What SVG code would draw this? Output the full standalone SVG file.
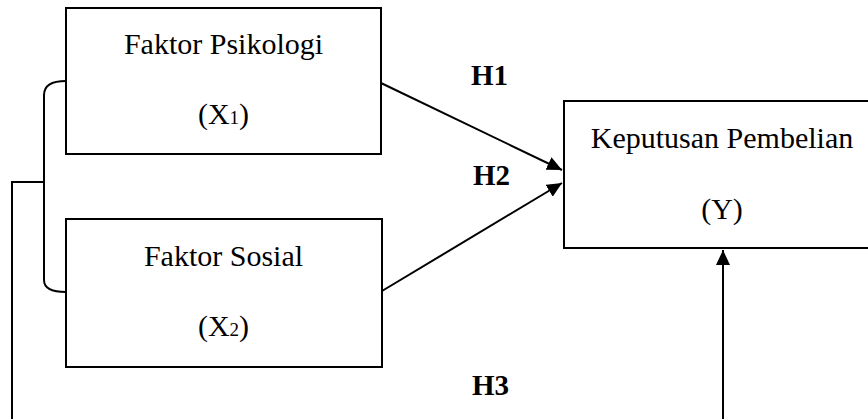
<svg xmlns="http://www.w3.org/2000/svg" width="868" height="419" viewBox="0 0 868 419">
<style>
.box{fill:#fff;stroke:#000;stroke-width:2}
.t{font-family:'Liberation Serif','Times New Roman','DejaVu Serif',serif;font-size:30px;fill:#000;text-anchor:middle}
.h{font-family:'Liberation Serif','Times New Roman','DejaVu Serif',serif;font-size:29px;font-weight:bold;fill:#000}
.ln{fill:none;stroke:#000;stroke-width:2}
</style>
<defs>
<marker id="arr" markerWidth="16" markerHeight="14" refX="15" refY="7" orient="auto" markerUnits="userSpaceOnUse">
<path d="M0,0 L15,7 L0,14 Z" fill="#000"/>
</marker>
</defs>
<rect width="868" height="419" fill="#fff"/>
<g id="x1">
<rect class="box" x="66" y="8" width="315" height="146"/>
<text class="t" x="223.5" y="54">Faktor Psikologi</text>
<text class="t" x="223.5" y="124">(X<tspan font-size="19">1</tspan>)</text>
</g>
<g id="x2">
<rect class="box" x="66" y="219" width="316" height="148"/>
<text class="t" x="223.5" y="266">Faktor Sosial</text>
<text class="t" x="223.5" y="336">(X<tspan font-size="19">2</tspan>)</text>
</g>
<g id="y">
<rect class="box" x="564" y="101" width="320" height="147"/>
<text class="t" x="722" y="148">Keputusan Pembelian</text>
<text class="t" x="722" y="219">(Y)</text>
</g>
<g id="labels">
<text class="h" x="471" y="85">H1</text>
<text class="h" x="473" y="185">H2</text>
<text class="h" x="472" y="395">H3</text>
</g>
<g id="connectors">
<path class="ln" d="M66,81 C52,81 44,85 44,95 L44,280 C44,288 52,292 66,292"/>
<path class="ln" d="M44,182 L12,182 L12,419"/>
<line class="ln" x1="381" y1="83" x2="562" y2="170" marker-end="url(#arr)"/>
<line class="ln" x1="382" y1="291" x2="562" y2="183" marker-end="url(#arr)"/>
<line class="ln" x1="723" y1="419" x2="723" y2="250" marker-end="url(#arr)"/>
</g>
</svg>
